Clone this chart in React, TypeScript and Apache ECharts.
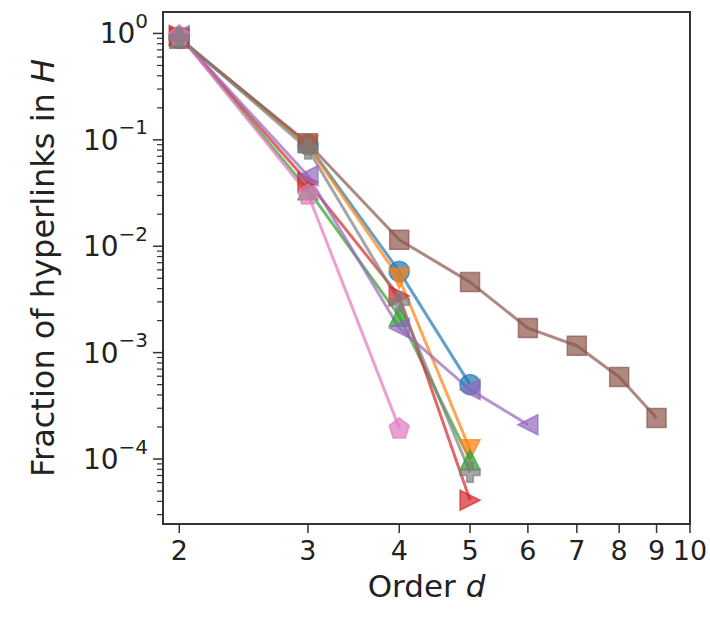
import React, { useEffect, useRef } from "react";
import * as echarts from "echarts";

const FONT = "DejaVu Sans";

// Order d values per series and the fraction of hyperlinks
const ORDERS_BLUE = [2, 3, 4, 5];
const VALUES_BLUE = [0.904, 0.09, 0.0058, 0.0005];
const ORDERS_ORANGE = [2, 3, 4, 5];
const VALUES_ORANGE = [0.907, 0.088, 0.005, 0.000122];
const ORDERS_GREEN = [2, 3, 4, 5];
const VALUES_GREEN = [0.964, 0.034, 0.0022, 0.000098];
const ORDERS_RED = [2, 3, 4, 5];
const VALUES_RED = [0.957, 0.04, 0.0034, 0.000041];
const ORDERS_PURPLE = [2, 3, 4, 5, 6];
const VALUES_PURPLE = [0.951, 0.046, 0.0017, 0.00045, 0.00021];
const ORDERS_BROWN = [2, 3, 4, 5, 6, 7, 8, 9];
const VALUES_BROWN = [0.89, 0.093, 0.0115, 0.0046, 0.0017, 0.00116, 0.00059, 0.000243];
const ORDERS_PINK = [2, 3, 4];
const VALUES_PINK = [0.966, 0.031, 0.000196];
const ORDERS_GRAY = [2, 3, 4, 5];
const VALUES_GRAY = [0.915, 0.082, 0.003, 0.000075];

const X_TICKS = [2, 3, 4, 5, 6, 7, 8, 9, 10];
const Y_MAJOR_EXP = [0, -1, -2, -3, -4];
const Y_MINOR_DECADES = [-5, -4, -3, -2, -1, 0];
const Y_MINOR_MULT = [2, 3, 4, 5, 6, 7, 8, 9];

const X_MIN = 1.9;
const X_MAX = 10;
const Y_MIN = 2.45e-5;
const Y_MAX = 1.59;

const SYM_PENTAGON = "path://M0,-1 L0.951,-0.309 L0.588,0.809 L-0.588,0.809 L-0.951,-0.309 Z";
const SYM_PLUS =
  "path://M-1,-0.33 L-0.33,-0.33 L-0.33,-1 L0.33,-1 L0.33,-0.33 L1,-0.33 L1,0.33 L0.33,0.33 L0.33,1 L-0.33,1 L-0.33,0.33 L-1,0.33 Z";
const SYM_DOWN = "path://M-1,-1 L1,-1 L0,1 Z";
const SYM_UP = "path://M-1,1 L1,1 L0,-1 Z";
const SYM_RIGHT = "path://M-1,-1 L1,0 L-1,1 Z";
const SYM_LEFT = "path://M1,-1 L-1,0 L1,1 Z";

const SERIES = [
  { name: "a", orders: ORDERS_BLUE, values: VALUES_BLUE, rgb: "31,119,180", symbol: "circle", size: 20 },
  { name: "b", orders: ORDERS_ORANGE, values: VALUES_ORANGE, rgb: "255,127,14", symbol: SYM_DOWN, size: 20 },
  { name: "c", orders: ORDERS_GREEN, values: VALUES_GREEN, rgb: "44,160,44", symbol: SYM_UP, size: 20 },
  { name: "d", orders: ORDERS_RED, values: VALUES_RED, rgb: "214,39,40", symbol: SYM_RIGHT, size: 20 },
  { name: "e", orders: ORDERS_PURPLE, values: VALUES_PURPLE, rgb: "148,103,189", symbol: SYM_LEFT, size: 20 },
  { name: "f", orders: ORDERS_BROWN, values: VALUES_BROWN, rgb: "140,86,75", symbol: "rect", size: 19 },
  { name: "g", orders: ORDERS_PINK, values: VALUES_PINK, rgb: "227,119,194", symbol: SYM_PENTAGON, size: 20 },
  { name: "h", orders: ORDERS_GRAY, values: VALUES_GRAY, rgb: "127,127,127", symbol: SYM_PLUS, size: 20 },
];

const lg = Math.log10;
const supText = (e: number) => (e < 0 ? "\u2212" + String(-e) : String(e));

export default function App() {
  const ref = useRef<HTMLDivElement>(null);
  useEffect(() => {
    if (!ref.current) return;
    const chart = echarts.init(ref.current, undefined, { renderer: "svg" });
    const lineSeries = SERIES.map((s) => ({
      type: "line",
      name: s.name,
      data: s.orders.map((d, i) => [lg(d), lg(s.values[i])]),
      symbol: s.symbol,
      symbolSize: s.size,
      lineStyle: { color: `rgba(${s.rgb},0.7)`, width: 3 },
      itemStyle: {
        color: `rgba(${s.rgb},0.7)`,
        borderColor: `rgba(${s.rgb},0.7)`,
        borderWidth: 1.5,
      },
      emphasis: { disabled: true },
      z: 2,
    }));

    const yMinor: number[] = [];
    Y_MINOR_DECADES.forEach((e) =>
      Y_MINOR_MULT.forEach((m) => {
        const v = lg(m) + e;
        if (v >= lg(Y_MIN) && v <= lg(Y_MAX)) yMinor.push(v);
      })
    );

    const tickColor = "#333";
    const xTickSeries = {
      type: "custom",
      data: X_TICKS.map((d) => [lg(d), d]),
      silent: true,
      z: 5,
      renderItem: (params: any, api: any) => {
        const p = api.coord([api.value(0), lg(Y_MIN)]);
        return {
          type: "group",
          children: [
            {
              type: "line",
              shape: { x1: p[0], y1: p[1], x2: p[0], y2: p[1] + 9 },
              style: { stroke: tickColor, lineWidth: 1.5 },
            },
            {
              type: "text",
              x: p[0],
              y: p[1] + 13,
              style: {
                text: String(api.value(1)),
                fontSize: 27,
                fontFamily: FONT,
                fill: "#222",
                align: "center",
                verticalAlign: "top",
              },
            },
          ],
        };
      },
    };

    const yMajorSeries = {
      type: "custom",
      data: Y_MAJOR_EXP.map((e) => [lg(X_MIN), e]),
      silent: true,
      z: 5,
      renderItem: (params: any, api: any) => {
        const e = api.value(1);
        const p = api.coord([lg(X_MIN), e]);
        return {
          type: "group",
          children: [
            {
              type: "line",
              shape: { x1: p[0] - 10, y1: p[1], x2: p[0], y2: p[1] },
              style: { stroke: tickColor, lineWidth: 1.5 },
            },
            {
              type: "text",
              x: p[0] - 15,
              y: p[1] - 4,
              style: {
                text: `{b|10}{s|${supText(e)}}`,
                fontFamily: FONT,
                fill: "#222",
                align: "right",
                verticalAlign: "middle",
                rich: {
                  b: { fontSize: 28, fontFamily: FONT, fill: "#222", padding: [9, 0, 0, 0], verticalAlign: "bottom" },
                  s: { fontSize: 20, fontFamily: FONT, fill: "#222", verticalAlign: "top" },
                },
              },
            },
          ],
        };
      },
    };

    const yMinorSeries = {
      type: "custom",
      data: yMinor.map((v) => [lg(X_MIN), v]),
      silent: true,
      z: 5,
      renderItem: (params: any, api: any) => {
        const p = api.coord([lg(X_MIN), api.value(1)]);
        return {
          type: "line",
          shape: { x1: p[0] - 6, y1: p[1], x2: p[0], y2: p[1] },
          style: { stroke: tickColor, lineWidth: 1.2 },
        };
      },
    };

    chart.setOption({
      animation: false,
      grid: {
        left: 163,
        top: 12,
        width: 527,
        height: 512,
        show: true,
        borderColor: "#333",
        borderWidth: 2,
        backgroundColor: "transparent",
      },
      xAxis: {
        type: "value",
        min: lg(X_MIN),
        max: lg(X_MAX),
        axisLine: { show: false },
        axisTick: { show: false },
        axisLabel: { show: false },
        splitLine: { show: false },
        name: "Order {i|d}",
        nameLocation: "middle",
        nameGap: 46,
        nameTextStyle: {
          fontSize: 31,
          fontFamily: FONT,
          color: "#222",
          rich: { i: { fontSize: 31, fontFamily: FONT, fontStyle: "italic", color: "#222" } },
        },
      },
      yAxis: {
        type: "value",
        min: lg(Y_MIN),
        max: lg(Y_MAX),
        axisLine: { show: false },
        axisTick: { show: false },
        axisLabel: { show: false },
        splitLine: { show: false },
        name: "Fraction of hyperlinks in {i|H}",
        nameLocation: "middle",
        nameRotate: 90,
        nameGap: 104,
        nameTextStyle: {
          fontSize: 32,
          fontFamily: FONT,
          color: "#222",
          rich: { i: { fontSize: 32, fontFamily: FONT, fontStyle: "italic", color: "#222" } },
        },
      },
      series: [...lineSeries, xTickSeries, yMajorSeries, yMinorSeries],
    });
    return () => chart.dispose();
  }, []);
  return <div ref={ref} style={{ width: 710, height: 617, position: "absolute", left: 0, top: 0 }} />;
}
